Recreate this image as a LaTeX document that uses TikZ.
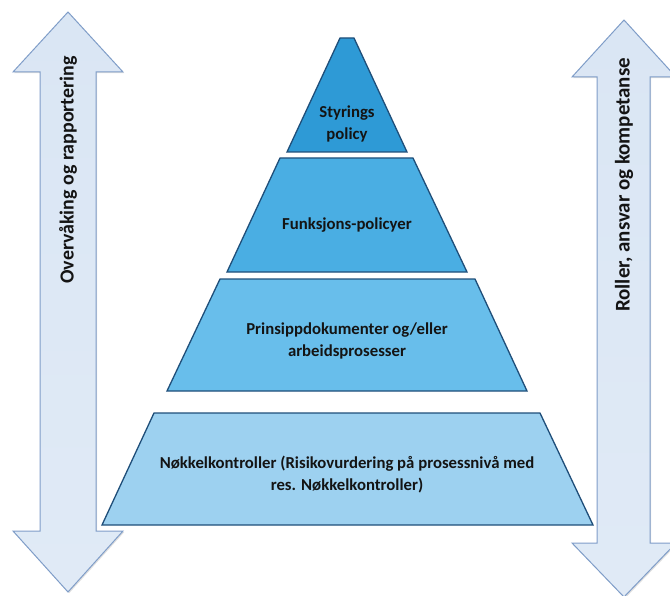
\documentclass[tikz,border=0pt]{standalone}
\usepackage{fontspec}
\setmainfont{Carlito}
\usetikzlibrary{shadows}
\definecolor{edgeblue}{HTML}{1F4E79}
\definecolor{lay1}{HTML}{2E9AD6}
\definecolor{lay2}{HTML}{4AAEE3}
\definecolor{lay3}{HTML}{68BEEB}
\definecolor{lay4}{HTML}{9DD1F0}
\definecolor{arrtop}{HTML}{DAE6F4}
\definecolor{arrmid}{HTML}{A9C3E6}
\definecolor{arrbot}{HTML}{E0EAF6}
\definecolor{arredge}{HTML}{7F9DC8}
\definecolor{txt}{HTML}{141414}
\tikzset{
  layer/.style={draw=edgeblue, line width=1.3bp, line join=miter, fill=#1},
  bigarrow/.style={draw=arredge, line width=1bp, top color=arrtop, middle color=arrmid, bottom color=arrbot,
    drop shadow={opacity=0.25, shadow xshift=1.2bp, shadow yshift=-1.2bp}},
  lbl/.style={font=\fontsize{16.8}{22}\selectfont\bfseries, text=txt, align=center, inner sep=0pt},
  vlbl/.style={font=\fontsize{#1}{22}\selectfont\bfseries, text=txt, inner sep=0pt, rotate=90},
}
\begin{document}
\begin{tikzpicture}[x=1bp, y=-1bp]
\useasboundingbox (0,0) rectangle (670,596);
% left double arrow
\path[bigarrow] (68,12) -- (123,72) -- (96,72) -- (96,531) -- (123,531) -- (68,592)
  -- (13,531) -- (40,531) -- (40,72) -- (13,72) -- cycle;
% right double arrow
\path[bigarrow] (624,20) -- (676,77) -- (650,77) -- (650,543) -- (676,543) -- (624,597)
  -- (572,543) -- (597,543) -- (597,77) -- (572,77) -- cycle;
% pyramid layers
\path[layer=lay1] (340,38) -- (354,38) -- (407,152) -- (287,152) -- cycle;
\path[layer=lay2] (280,158) -- (413,158) -- (467,272) -- (227,272) -- cycle;
\path[layer=lay3] (220,279) -- (475,279) -- (527,391) -- (167,391) -- cycle;
\path[layer=lay4] (154,413) -- (540,413) -- (593,525) -- (102,525) -- cycle;
% labels
\node[lbl] (t1) at (347,124) {Styrings\\policy};
\node[lbl] (t2) at (347,225) {Funksjons-policyer};
\node[lbl] (t3) at (347,341) {Prinsippdokumenter og/eller\\arbeidsprosesser};
\node[lbl] (t4) at (347,475) {Nøkkelkontroller (Risikovurdering på prosessnivå med\\res. Nøkkelkontroller)};
\node[vlbl=20] (tl) at (68,170) {Overvåking og rapportering};
\node[vlbl=21] (tr) at (624,185) {Roller, ansvar og kompetanse};
\end{tikzpicture}
\end{document}
